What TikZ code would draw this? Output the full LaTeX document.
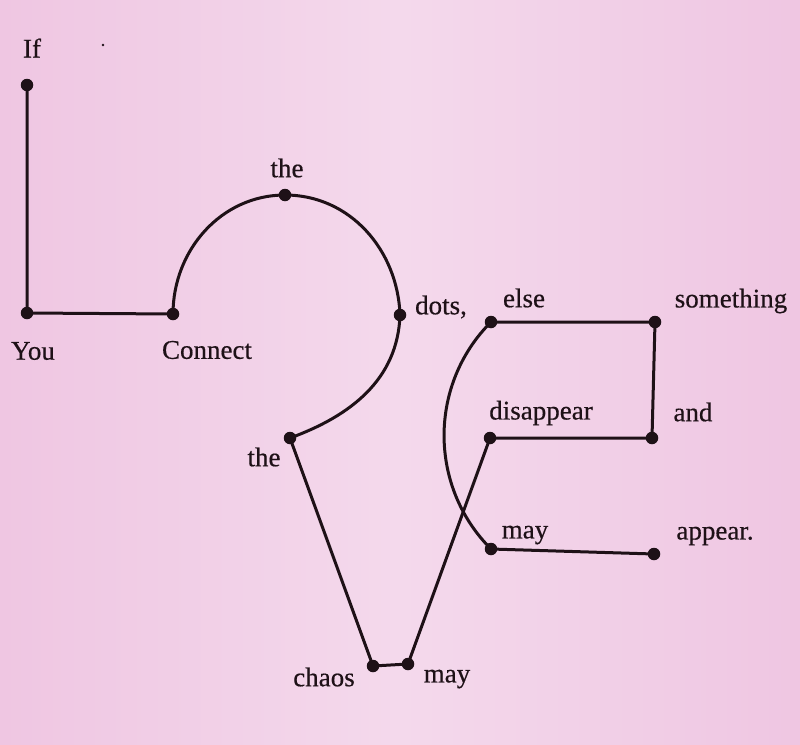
\documentclass[tikz,border=0pt]{standalone}
\usepackage{fontspec}
\setmainfont{Liberation Serif}[FakeBold=0.5]
\definecolor{inkc}{HTML}{1E1117}
\definecolor{bgedge}{HTML}{E6AAD4}
\definecolor{bgleft}{HTML}{EFC6E2}
\definecolor{bgmid}{HTML}{F4D9EC}
\definecolor{bgright}{HTML}{E9B1D8}
\pgfdeclarehorizontalshading{pinkbg}{100bp}{%
  color(0bp)=(bgedge); color(25bp)=(bgleft); color(50bp)=(bgmid);
  color(75bp)=(bgleft); color(100bp)=(bgright)}
\begin{document}
\begin{tikzpicture}[x=1pt,y=1pt,
  dot/.style={circle,fill=inkc,inner sep=0pt,minimum size=12.5pt},
  word/.style={inner sep=0pt,text=inkc,font=\fontsize{27}{30}\selectfont},
  wire/.style={draw=inkc,line width=3pt}]
\useasboundingbox (0,0) rectangle (800,-744);
\shade[shading=pinkbg] (0,0) rectangle (800,-744);
% dots
\node[dot] (if) at (27,-85) {};
\node[dot] (you) at (27,-313) {};
\node[dot] (connect) at (173,-314) {};
\node[dot] (theA) at (285,-195) {};
\node[dot] (dots) at (400,-315) {};
\node[dot] (theB) at (290,-438) {};
\node[dot] (chaos) at (373,-666) {};
\node[dot] (mayA) at (408,-664) {};
\node[dot] (disappear) at (490,-438) {};
\node[dot] (and) at (652,-438) {};
\node[dot] (something) at (655,-322) {};
\node[dot] (else) at (491,-322) {};
\node[dot] (mayB) at (491,-549) {};
\node[dot] (appear) at (654,-554) {};
\fill[inkc] (103,-45) circle (1.4);
% words
\node[word] (tIf) at (32,-48) {If};
\node[word] (tYou) at (33,-351) {You};
\node[word] (tConnect) at (207,-350) {Connect};
\node[word] (tTheA) at (287,-168) {the};
\node[word] (tDots) at (441,-307) {dots,};
\node[word] (tTheB) at (264,-457) {the};
\node[word] (tChaos) at (324,-677) {chaos};
\node[word] (tMayA) at (447,-679) {may};
\node[word] (tElse) at (524,-298) {else};
\node[word] (tSomething) at (731,-301) {something};
\node[word] (tDisappear) at (541,-413) {disappear};
\node[word] (tAnd) at (693,-412) {and};
\node[word] (tMayB) at (525,-535) {may};
\node[word] (tAppear) at (715,-536) {appear.};
% connectors
\draw[wire] (if.center) -- (you.center) -- (connect.center);
\draw[wire] (connect.center) to[out=90,in=180] (theA.center)
  to[out=0,in=92] (dots.center)
  to[out=-92,in=20] (theB.center);
\draw[wire] (theB.center) -- (chaos.center) -- (mayA.center) -- (disappear.center)
  -- (and.center) -- (something.center) -- (else.center);
\draw[wire] (else.center) to[out=225,in=135] (mayB.center);
\draw[wire] (mayB.center) -- (appear.center);
\end{tikzpicture}
\end{document}
